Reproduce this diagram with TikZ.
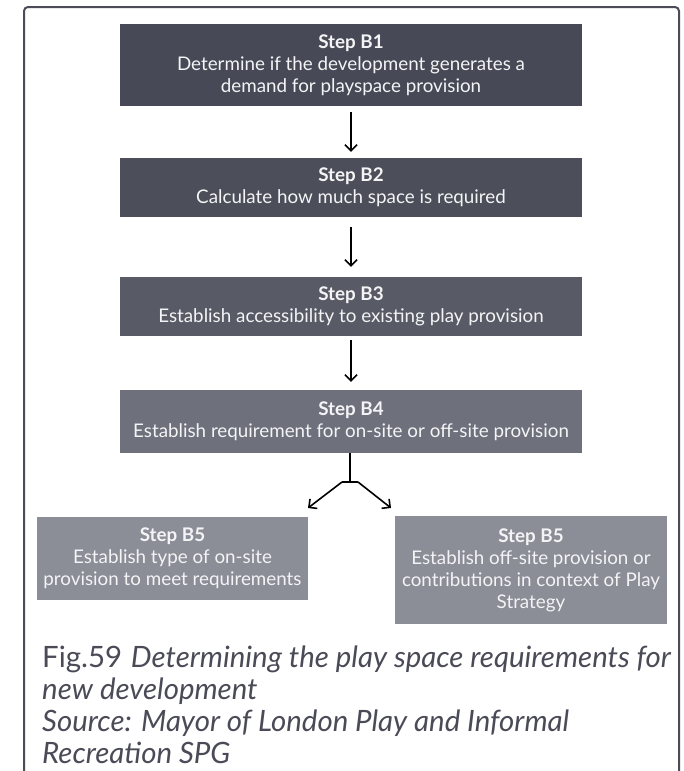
\documentclass[tikz,border=0pt]{standalone}
\usepackage{fontspec}
\setmainfont{Lato}
\usetikzlibrary{arrows.meta}
\definecolor{frame}{HTML}{4B4C58}
\definecolor{cB1}{HTML}{474A56}
\definecolor{cB2}{HTML}{4C4F5A}
\definecolor{cB3}{HTML}{585B66}
\definecolor{cB4}{HTML}{6E717C}
\definecolor{cB5}{HTML}{8B8D97}
\definecolor{captxt}{HTML}{4A4B57}
\definecolor{boxtxt}{HTML}{F4F4F6}
\tikzset{
  stepbox/.style={rectangle, inner sep=0pt, align=center, text=boxtxt,
    font=\fontsize{18.8}{22}\selectfont},
  flowarrow/.style={line width=1.6pt, black, -{Straight Barb[length=6pt,width=12pt,line width=1.6pt]}},
  flowline/.style={line width=1.6pt, black},
}
\begin{document}
\begin{tikzpicture}[x=1pt,y=-1pt]
\useasboundingbox (0,0) rectangle (684,771);
\fill[white] (0,0) rectangle (684,771);
% frame
\draw[frame, line width=2pt, rounded corners=4pt] (24,775) -- (24,7) -- (679,7) -- (679,775);

\node[stepbox, fill=cB1, minimum width=462pt, minimum height=82pt] (b1) at (351,65)
  {\textbf{Step B1}\\Determine if the development generates a\\demand for playspace provision};
\node[stepbox, fill=cB2, minimum width=462pt, minimum height=59pt] (b2) at (351,187.5)
  {\textbf{Step B2}\\Calculate how much space is required};
\node[stepbox, fill=cB3, minimum width=462pt, minimum height=59pt] (b3) at (351,306.5)
  {\textbf{Step B3}\\Establish accessibility to existing play provision};
\node[stepbox, fill=cB4, minimum width=462pt, minimum height=63pt] (b4) at (351,421.5)
  {\textbf{Step B4}\\Establish requirement for on-site or off-site provision};
\node[stepbox, fill=cB5, minimum width=271pt, minimum height=83pt] (b5a) at (172.5,558.5)
  {\textbf{Step B5}\\Establish type of on-site\\provision to meet requirements};
\node[stepbox, fill=cB5, minimum width=272pt, minimum height=108pt] (b5b) at (531,570)
  {\textbf{Step B5}\\Establish off-site provision or\\contributions in context of Play\\Strategy};

% arrows
\draw[flowarrow] ([yshift=-6pt]b1.south) -- ([yshift=6pt]b2.north);
\draw[flowarrow] ([yshift=-10pt]b2.south) -- ([yshift=10pt]b3.north);
\draw[flowarrow] ([yshift=-4pt]b3.south) -- ([yshift=8pt]b4.north);

\coordinate (split) at (350,482);
\coordinate (splitL) at (342,482);
\coordinate (splitR) at (358,482);
\coordinate (tipL) at (308,508);
\coordinate (tipR) at (391,508);
\draw[flowline] (b4.south -| split) -- (split);
\draw[flowline] (splitL) -- (splitR);
\draw[flowarrow] (splitL) -- (tipL);
\draw[flowarrow] (splitR) -- (tipR);

% caption
\node[anchor=base west, inner sep=0pt, align=left, text=captxt,
  font=\fontsize{29.4}{31.7}\selectfont] (cap) at (42,763)
  {Fig.59\hspace{0.3em}\textit{Determining the play space requirements for}\\
   \textit{new development}\\
   \textit{Source: Mayor of London Play and Informal}\\
   \textit{Recreation SPG}};
\end{tikzpicture}
\end{document}
